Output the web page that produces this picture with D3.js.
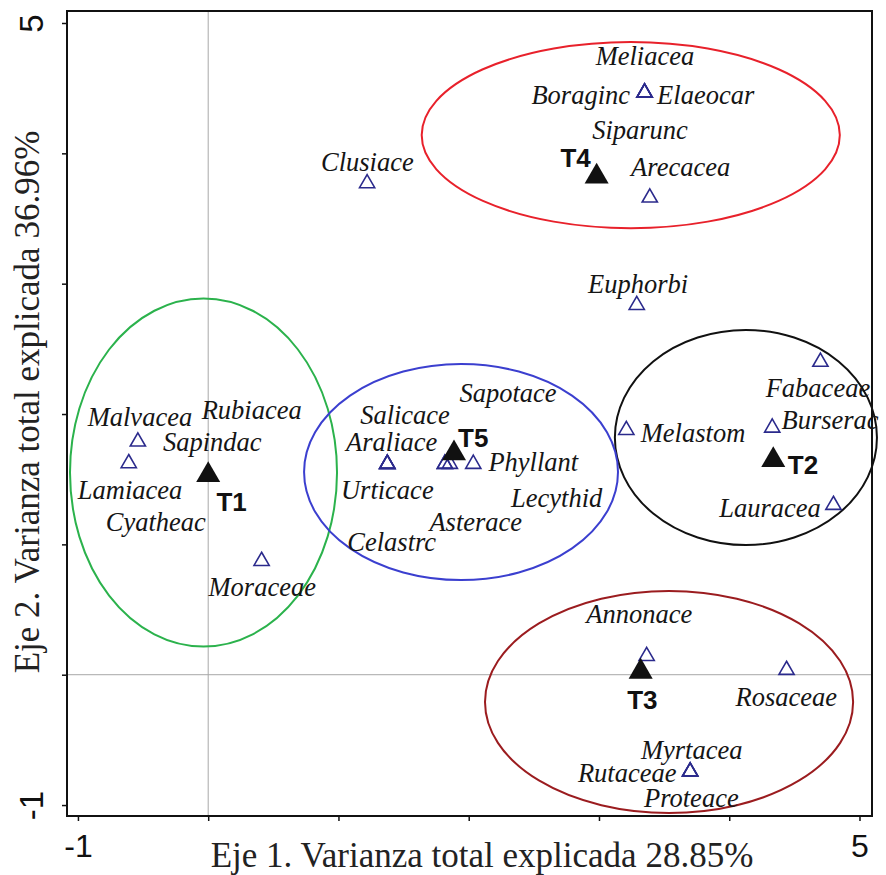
<!DOCTYPE html>
<html><head><meta charset="utf-8">
<script src="https://cdn.jsdelivr.net/npm/d3@7"></script>
<style>body{margin:0;background:#fff}</style>
</head><body>
<svg id="chart" width="886" height="875"></svg>
<script>
// ---- data ----
const families = ["Meliacea","Boraginc","Elaeocar","Siparunc","Arecacea","Clusiace","Euphorbi",
  "Fabaceae","Burserac","Melastom","Lauracea","Malvacea","Lamiacea","Rubiacea","Sapindac","Cyatheac",
  "Moraceae","Araliace","Urticace","Salicace","Celastrc","Asterace","Sapotace","Lecythid","Phyllant",
  "Annonace","Rosaceae","Myrtacea","Rutaceae","Proteace"];
const famX = [3.35,3.35,3.35,3.35,3.39,1.22,3.29,
  4.70,4.33,3.21,4.80,-0.54,-0.61,0.00,0.00,0.00,
  0.41,1.375,1.375,1.375,1.375,1.817,1.817,1.855,2.035,
  3.366,4.44,3.70,3.70,3.70];
const famY = [4.465,4.465,4.465,4.465,3.66,3.77,2.836,
  2.40,1.895,1.877,1.302,1.788,1.622,1.53,1.53,1.53,
  0.872,1.617,1.617,1.617,1.617,1.617,1.617,1.617,1.617,
  0.143,0.036,-0.744,-0.744,-0.744];
const famLabelX = [3.353,2.860,3.819,3.315,3.627,1.222,3.300,
  4.681,4.774,3.722,4.313,-0.524,-0.600,0.334,0.031,-0.402,
  0.415,1.409,1.375,1.511,1.409,2.054,2.302,2.675,2.496,
  3.310,4.438,3.712,3.217,3.709];
const famLabelY = [4.747,4.448,4.448,4.179,3.898,3.936,2.998,
  2.200,1.954,1.854,1.281,1.975,1.417,2.031,1.788,1.174,
  0.673,1.788,1.417,1.993,1.020,1.174,2.161,1.353,1.634,
  0.466,-0.169,-0.578,-0.756,-0.948];

const treatments = ["T1","T2","T3","T4","T5"];
const treatX = [0.00,4.338,3.320,2.982,1.887];
const treatY = [1.532,1.647,0.023,3.821,1.699];
const treatLabelX = [0.180,4.566,3.333,2.821,2.035];
const treatLabelY = [1.327,1.609,-0.194,3.964,1.814];

// confidence ellipses (one per treatment), data units
const ellipseCX = [-0.036,4.128,3.538,3.244,1.941];
const ellipseCY = [1.551,1.820,-0.209,4.140,1.555];
const ellipseRX = [1.025,1.006,1.413,1.605,1.205];
const ellipseRY = [1.335,0.825,0.852,0.714,0.829];

const xTicks = [-1,0,1,2,3,4,5];
const yTicks = [-1,0,1,2,3,4,5];
const labeledTicks = [-1,5];
const xTitle = "Eje 1. Varianza total explicada 28.85%";
const yTitle = "Eje 2. Varianza total explicada 36.96%";

// ---- styles ----
const ellipseColors = ["#2bb24c","#111111","#9b1c1f","#e8212b","#3b3fcf"];
const openColor = "#2b2a8c";

// ---- chart ----
const svg = d3.select("#chart");
const L = 67, R = 872, T = 11, B = 816;
const x = d3.scaleLinear().domain([-1.084, 5.096]).range([L, R]);
const y = d3.scaleLinear().domain([-1.084, 5.092]).range([B, T]);

// reference lines at 0
svg.append("line").attr("x1", x(0)).attr("x2", x(0)).attr("y1", T).attr("y2", B)
  .attr("stroke", "#a8a8a8").attr("stroke-width", 1);
svg.append("line").attr("x1", L).attr("x2", R).attr("y1", y(0)).attr("y2", y(0))
  .attr("stroke", "#a8a8a8").attr("stroke-width", 1);

// ellipses
svg.append("g").selectAll("ellipse").data(treatments).join("ellipse")
  .attr("cx", (d, i) => x(ellipseCX[i]))
  .attr("cy", (d, i) => y(ellipseCY[i]))
  .attr("rx", (d, i) => x(ellipseCX[i] + ellipseRX[i]) - x(ellipseCX[i]))
  .attr("ry", (d, i) => y(ellipseCY[i]) - y(ellipseCY[i] + ellipseRY[i]))
  .attr("fill", "none")
  .attr("stroke", (d, i) => ellipseColors[i])
  .attr("stroke-width", 2);

// open triangles (families)
const openSym = d3.symbol().type(d3.symbolTriangle).size(100);
svg.append("g").selectAll("path").data(families).join("path")
  .attr("d", openSym)
  .attr("transform", (d, i) => `translate(${x(famX[i])},${y(famY[i])})`)
  .attr("fill", "none").attr("stroke", openColor).attr("stroke-width", 1.6);

// family labels
svg.append("g").selectAll("text").data(families).join("text")
  .attr("x", (d, i) => x(famLabelX[i]))
  .attr("y", (d, i) => y(famLabelY[i]))
  .attr("text-anchor", "middle").attr("dominant-baseline", "central")
  .attr("font-family", "'Liberation Serif','Times New Roman',serif")
  .attr("font-style", "italic").attr("font-size", 26.5).attr("fill", "#151515")
  .text(d => d);

// filled triangles (treatments)
const fillSym = d3.symbol().type(d3.symbolTriangle).size(250);
svg.append("g").selectAll("path").data(treatments).join("path")
  .attr("d", fillSym)
  .attr("transform", (d, i) => `translate(${x(treatX[i])},${y(treatY[i])})`)
  .attr("fill", "#111");

svg.append("g").selectAll("text").data(treatments).join("text")
  .attr("x", (d, i) => x(treatLabelX[i]))
  .attr("y", (d, i) => y(treatLabelY[i]))
  .attr("text-anchor", "middle").attr("dominant-baseline", "central")
  .attr("font-family", "'Liberation Sans',Arial,sans-serif")
  .attr("font-weight", "bold").attr("font-size", 26).attr("fill", "#111")
  .text(d => d);

// frame
svg.append("rect").attr("x", L).attr("y", T).attr("width", R - L).attr("height", B - T)
  .attr("fill", "none").attr("stroke", "#111").attr("stroke-width", 2);

// axes
const xAxis = d3.axisBottom(x).tickValues(xTicks).tickSize(5).tickSizeOuter(0)
  .tickFormat(d => labeledTicks.includes(d) ? String(d) : "");
const gx = svg.append("g").attr("transform", `translate(0,${B})`).call(xAxis);
gx.select(".domain").remove();
gx.selectAll(".tick line").attr("stroke", "#111").attr("stroke-width", 1.5);
gx.selectAll(".tick text").attr("font-family", "'Liberation Sans',Arial,sans-serif")
  .attr("font-size", 32).attr("fill", "#111").attr("dy", "0.71em").attr("y", 18);

const yAxis = d3.axisLeft(y).tickValues(yTicks).tickSize(5).tickSizeOuter(0)
  .tickFormat(d => labeledTicks.includes(d) ? String(d) : "");
const gy = svg.append("g").attr("transform", `translate(${L},0)`).call(yAxis);
gy.select(".domain").remove();
gy.selectAll(".tick line").attr("stroke", "#111").attr("stroke-width", 1.5);
gy.selectAll(".tick text").attr("font-family", "'Liberation Sans',Arial,sans-serif")
  .attr("font-size", 33).attr("fill", "#111")
  .attr("x", null).attr("dy", null)
  .attr("text-anchor", "middle")
  .attr("transform", "translate(-24,0) rotate(-90)");

// axis titles
svg.append("text").attr("x", 482).attr("y", 867).attr("text-anchor", "middle")
  .attr("font-family", "'Liberation Serif','Times New Roman',serif")
  .attr("font-size", 35).attr("fill", "#222").text(xTitle);
svg.append("text").attr("transform", "translate(39,402) rotate(-90)").attr("text-anchor", "middle")
  .attr("font-family", "'Liberation Serif','Times New Roman',serif")
  .attr("font-size", 35).attr("fill", "#222").text(yTitle);
</script>
</body></html>
